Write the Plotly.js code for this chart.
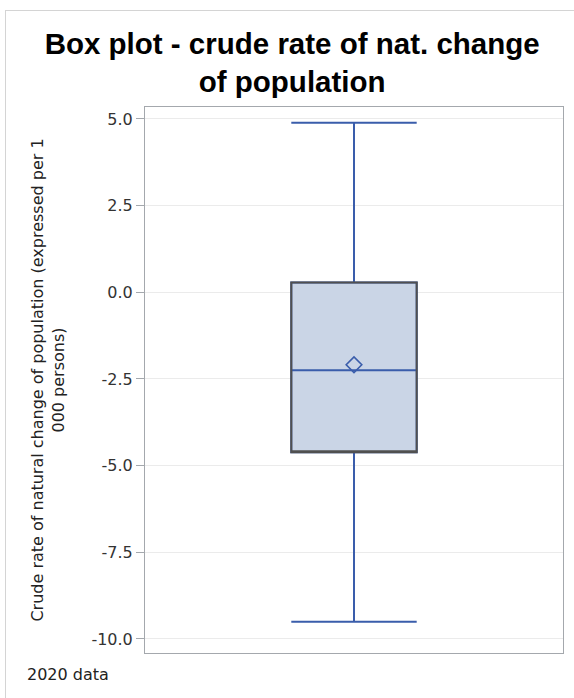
<!DOCTYPE html>
<html>
<head>
<meta charset="utf-8">
<script src="https://cdn.plot.ly/plotly-3.0.1.min.js"></script>
<style>
  html, body { margin: 0; padding: 0; background: #fff; }
  #frame { position: absolute; left: 5px; top: 10px; width: 620px; height: 720px;
           border: 1px solid #d4d4d4; pointer-events: none; }
  #chart { width: 574px; height: 698px; }
</style>
</head>
<body>
<div id="chart"></div>
<div id="frame"></div>
<script>
// Box statistics (2020 data)
const positions = [0];
const q1Values = [-4.61];
const medianValues = [-2.25];
const q3Values = [0.28];
const lowerFenceValues = [-9.50];
const upperFenceValues = [4.89];
const meanValues = [-2.09];

const yTickValues = [-10, -7.5, -5, -2.5, 0, 2.5, 5];
const yTickLabels = ['-10.0', '-7.5', '-5.0', '-2.5', '0.0', '2.5', '5.0'];

const blue = '#3a5dab';
const fill = '#cad5e6';
const outline = '#505050';
const smallFont = 'DejaVu Sans, Liberation Sans, sans-serif';

const boxMain = {
  type: 'box',
  x: positions,
  q1: q1Values,
  median: medianValues,
  q3: q3Values,
  lowerfence: lowerFenceValues,
  upperfence: upperFenceValues,
  boxpoints: false,
  width: 0.3,
  whiskerwidth: 1,
  fillcolor: fill,
  line: { color: blue, width: 2 },
  hoverinfo: 'skip',
  showlegend: false
};

// dark outline of the box (Q1 to Q3 only)
const boxOutline = {
  type: 'box',
  x: positions,
  q1: q1Values,
  median: q1Values,
  q3: q3Values,
  lowerfence: q1Values,
  upperfence: q3Values,
  boxpoints: false,
  width: 0.3,
  whiskerwidth: 0,
  fillcolor: 'rgba(0,0,0,0)',
  line: { color: outline, width: 2 },
  hoverinfo: 'skip',
  showlegend: false
};

const meanMarker = {
  type: 'scatter',
  mode: 'markers',
  x: positions,
  y: meanValues,
  marker: { symbol: 'diamond-open', size: 12, color: blue, line: { color: blue, width: 1.6 } },
  hoverinfo: 'skip',
  showlegend: false
};

const layout = {
  width: 574,
  height: 698,
  paper_bgcolor: '#ffffff',
  plot_bgcolor: '#ffffff',
  margin: { l: 145, r: 11, t: 107, b: 45 },
  boxmode: 'overlay',
  font: { family: smallFont, color: '#333333' },
  title: {
    text: '<b>Box plot - crude rate of nat. change<br>of population</b>',
    font: { family: 'Liberation Sans, Arial, sans-serif', size: 29.5, color: '#000000' },
    x: 0.509, xanchor: 'center',
    y: 0.923, yanchor: 'top', yref: 'container'
  },
  xaxis: {
    type: 'linear',
    range: [-0.5, 0.5],
    showticklabels: false,
    ticks: '',
    showgrid: false,
    zeroline: false,
    showline: true,
    mirror: true,
    linecolor: '#a4a8ad',
    linewidth: 1,
    fixedrange: true
  },
  yaxis: {
    range: [-10.404, 5.346],
    tickmode: 'array',
    tickvals: yTickValues,
    ticktext: yTickLabels,
    ticks: 'outside',
    ticklen: 8,
    tickcolor: '#a4a8ad',
    tickfont: { family: smallFont, size: 16, color: '#333333' },
    showgrid: true,
    gridcolor: '#ebebeb',
    gridwidth: 1,
    zeroline: false,
    showline: true,
    mirror: true,
    linecolor: '#a4a8ad',
    linewidth: 1,
    fixedrange: true,
    title: {
      text: 'Crude rate of natural change of population (expressed per 1<br>000 persons)',
      font: { family: smallFont, size: 16, color: '#222222' },
      standoff: 22
    }
  },
  annotations: [{
    text: '2020 data',
    xref: 'paper', yref: 'paper',
    x: -0.287, y: -0.0385,
    xanchor: 'left', yanchor: 'middle',
    showarrow: false,
    font: { family: smallFont, size: 16, color: '#222222' }
  }]
};

Plotly.newPlot('chart', [boxMain, boxOutline, meanMarker], layout, { displayModeBar: false, staticPlot: true });
</script>
</body>
</html>
